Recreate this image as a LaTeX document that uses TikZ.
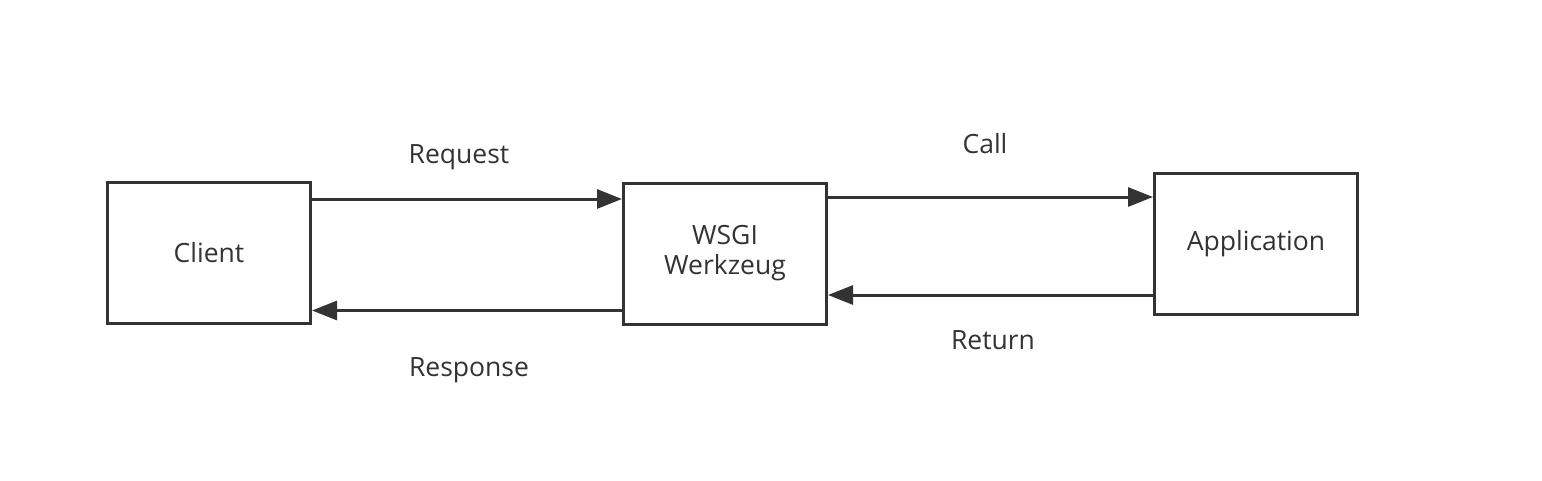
\documentclass[tikz,border=0pt]{standalone}
\usepackage{fontspec}
\setmainfont{Open Sans}
\usetikzlibrary{arrows.meta}
\definecolor{ink}{HTML}{333333}
\begin{document}
\begin{tikzpicture}[x=1pt,y=-1pt,
  box/.style={draw=ink,line width=3pt,rectangle,minimum width=203pt,minimum height=141pt,inner sep=0pt,text=ink,font=\fontsize{26.5}{30}\selectfont,align=center},
  lbl/.style={text=ink,font=\fontsize{26.5}{30}\selectfont,inner sep=0pt},
  arr/.style={draw=ink,line width=3pt,-{Triangle[length=25pt,width=19pt]}}]
\useasboundingbox[fill=white] (0,0) rectangle (1542,480);
\node[box] (client) at (209,253) {Client};
\node[box] (wsgi) at (725,253.5) {WSGI\\Werkzeug};
\node[box] (app) at (1256,244) {Application};
\draw[arr] ([yshift=54pt]client.east) -- ([yshift=54pt]client.east -| wsgi.west);
\draw[arr] ([yshift=-57pt]wsgi.west) -- ([yshift=-57pt]wsgi.west -| client.east);
\draw[arr] ([yshift=56.5pt]wsgi.east) -- ([yshift=56.5pt]wsgi.east -| app.west);
\draw[arr] ([yshift=-51pt]app.west) -- ([yshift=-51pt]app.west -| wsgi.east);
\node[lbl] (req) at (459,157) {Request};
\node[lbl] (resp) at (469,370) {Response};
\node[lbl] (call) at (985,144) {Call};
\node[lbl] (ret) at (993,340) {Return};
\end{tikzpicture}
\end{document}
